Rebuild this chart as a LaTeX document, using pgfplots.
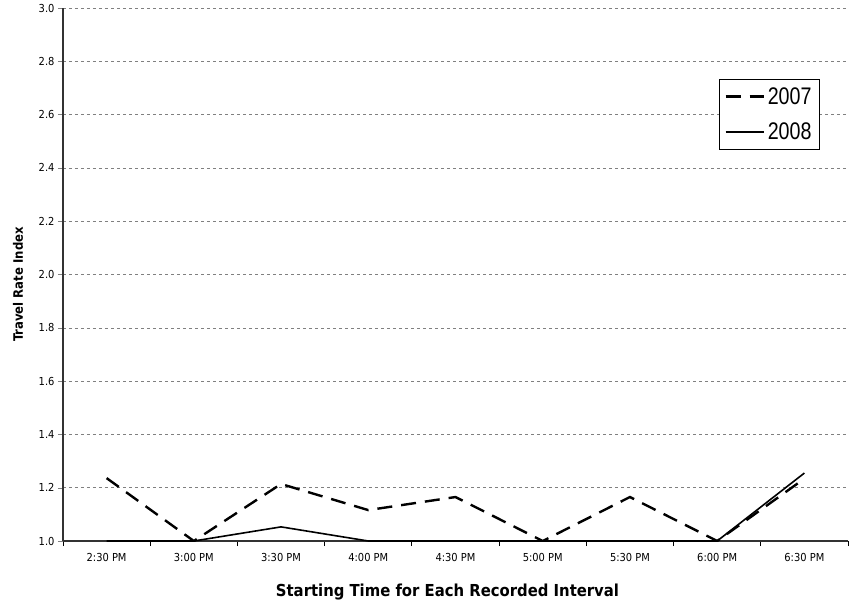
\documentclass[border=0pt]{standalone}
\usepackage{pgfplots}
\pgfplotsset{compat=1.18}
\usepackage{fontspec}
\setmainfont{DejaVu Sans Condensed}
\newfontfamily\narrowfont[FakeStretch=0.82]{Liberation Sans}
\begin{document}
\begin{tikzpicture}[x=1pt,y=1pt]
\useasboundingbox (-63,-65) rectangle (788,541);
\begin{axis}[
  at={(0,0)}, anchor=south west,
  scale only axis, width=785pt, height=533pt,
  xmin=-0.5, xmax=8.5, ymin=1.0, ymax=3.0,
  xtick={0,...,8},
  xticklabels={2:30 PM,3:00 PM,3:30 PM,4:00 PM,4:30 PM,5:00 PM,5:30 PM,6:00 PM,6:30 PM},
  minor xtick={-0.5,0.5,...,8.5},
  major x tick style={draw=none},
  minor x tick style={black, line width=0.8pt},
  x tick label style={font=\fontsize{11}{12}\selectfont, yshift=-4pt},
  ytick={1.0,1.2,...,3.0},
  y tick label style={font=\fontsize{11}{12}\selectfont},
  yticklabel style={/pgf/number format/.cd, fixed, fixed zerofill, precision=1},
  /pgf/number format/assume math mode=true,
  tick align=outside,
  minor tick length=5pt, major tick length=5pt,
  ymajorgrids, grid style={gray, dashed, line width=0.5pt},
  axis x line*=bottom, axis y line*=left,
  axis line style={black!80, line width=1.2pt},
  xlabel={\bfseries Starting Time for Each Recorded Interval},
  ylabel={\bfseries Travel Rate Index},
  xlabel style={font=\fontsize{16.5}{18}\selectfont, at={(axis description cs:0.5,0)}, anchor=center, yshift=-51pt, xshift=-8pt},
  ylabel style={font=\fontsize{13}{16}\selectfont, at={(axis description cs:0,0.5)}, anchor=center, yshift=45pt, xshift=-10pt},
  legend style={at={(0.9643,0.8668)}, anchor=north east, draw=black, line width=0.8pt,
    font=\narrowfont\fontsize{24}{26}\selectfont, inner xsep=5pt, inner ysep=7pt, row sep=15pt,
    nodes={inner xsep=3pt, inner ysep=1pt}},
  legend cell align=left,
  legend image code/.code={\draw[#1] (0pt,0pt) -- (38pt,0pt);},
]
\addplot[black, line width=2.4pt, dash pattern=on 15pt off 9pt] coordinates {
(0,1.236) (1,1.0) (2,1.214) (3,1.116) (4,1.165) (5,1.0) (6,1.165) (7,1.0) (8,1.234)};
\addlegendentry{2007}
\addplot[black, line width=1.6pt] coordinates {
(0,1.0) (1,1.0) (2,1.053) (3,1.0) (4,1.0) (5,1.0) (6,1.0) (7,1.0) (8,1.255)};
\addlegendentry{2008}
\end{axis}
\end{tikzpicture}
\end{document}
